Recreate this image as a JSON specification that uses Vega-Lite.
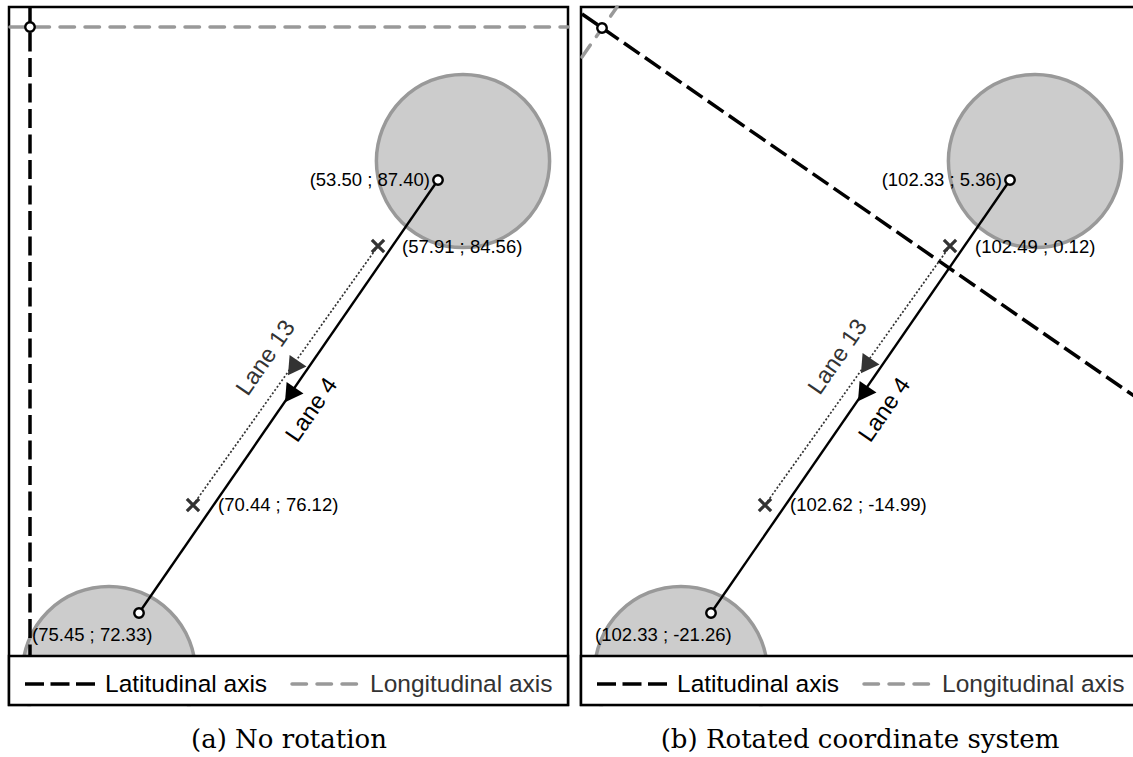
{
  "$schema": "https://vega.github.io/schema/vega-lite/v6.json",
  "width": 1133,
  "height": 757,
  "autosize": {"type": "none"},
  "padding": 0,
  "background": "white",
  "config": {"view": {"stroke": null}},
  "datasets": {
    "panels": [
      {"panel": "a", "x": 9, "x2": 568, "y": 7, "y2": 705},
      {"panel": "b", "x": 581, "x2": 1150, "y": 7, "y2": 705}
    ],
    "legendBoxes": [
      {"panel": "a", "x": 9, "x2": 568, "y": 656, "y2": 705},
      {"panel": "b", "x": 581, "x2": 1150, "y": 656, "y2": 705}
    ],
    "margin": [
      {"x": 0, "x2": 1133, "y": 706.5, "y2": 757}
    ],
    "zones": [
      {"panel": "a", "x": 463, "y": 161},
      {"panel": "a", "x": 109, "y": 673},
      {"panel": "b", "x": 1035, "y": 161},
      {"panel": "b", "x": 681, "y": 673}
    ],
    "axes": [
      {"id": "lat-a", "kind": "lat", "seq": 0, "x": 30, "y": 7},
      {"id": "lat-a", "kind": "lat", "seq": 1, "x": 30, "y": 656},
      {"id": "lon-a", "kind": "lon", "seq": 0, "x": 10, "y": 27},
      {"id": "lon-a", "kind": "lon", "seq": 1, "x": 568, "y": 27},
      {"id": "lat-b", "kind": "lat", "seq": 0, "x": 582, "y": 14},
      {"id": "lat-b", "kind": "lat", "seq": 1, "x": 1150, "y": 407},
      {"id": "lon-b", "kind": "lon", "seq": 0, "x": 582, "y": 57},
      {"id": "lon-b", "kind": "lon", "seq": 1, "x": 617, "y": 7}
    ],
    "legendKeys": [
      {"id": "lat-a", "kind": "lat", "seq": 0, "x": 25, "y": 684},
      {"id": "lat-a", "kind": "lat", "seq": 1, "x": 95, "y": 684},
      {"id": "lon-a", "kind": "lon", "seq": 0, "x": 292, "y": 684},
      {"id": "lon-a", "kind": "lon", "seq": 1, "x": 358, "y": 684},
      {"id": "lat-b", "kind": "lat", "seq": 0, "x": 597, "y": 684},
      {"id": "lat-b", "kind": "lat", "seq": 1, "x": 667, "y": 684},
      {"id": "lon-b", "kind": "lon", "seq": 0, "x": 864, "y": 684},
      {"id": "lon-b", "kind": "lon", "seq": 1, "x": 930, "y": 684}
    ],
    "legendTexts": [
      {"text": "Latitudinal axis", "kind": "lat", "x": 105, "y": 685},
      {"text": "Longitudinal axis", "kind": "lon", "x": 370, "y": 685},
      {"text": "Latitudinal axis", "kind": "lat", "x": 677, "y": 685},
      {"text": "Longitudinal axis", "kind": "lon", "x": 942, "y": 685}
    ],
    "lane4": [
      {"id": "a", "seq": 0, "x": 438, "y": 180},
      {"id": "a", "seq": 1, "x": 139, "y": 613},
      {"id": "b", "seq": 0, "x": 1010, "y": 180},
      {"id": "b", "seq": 1, "x": 711, "y": 613}
    ],
    "lane13": [
      {"id": "a", "seq": 0, "x": 378, "y": 246},
      {"id": "a", "seq": 1, "x": 193, "y": 505},
      {"id": "b", "seq": 0, "x": 950, "y": 246},
      {"id": "b", "seq": 1, "x": 765, "y": 505}
    ],
    "arrows": [
      {"lane": "4", "x": 290, "y": 395},
      {"lane": "13", "x": 293, "y": 368},
      {"lane": "4", "x": 863, "y": 394},
      {"lane": "13", "x": 866, "y": 366}
    ],
    "waypoints": [
      {"x": 438, "y": 180}, {"x": 139, "y": 613},
      {"x": 1010, "y": 180}, {"x": 711, "y": 613},
      {"x": 30, "y": 27}, {"x": 602, "y": 28}
    ],
    "crossings": [
      {"x": 378, "y": 246}, {"x": 193, "y": 505},
      {"x": 950, "y": 246}, {"x": 765, "y": 505}
    ],
    "coordLabels": [
      {"text": "(53.50 ; 87.40)", "side": "right", "x": 430, "y": 180},
      {"text": "(57.91 ; 84.56)", "side": "left", "x": 402, "y": 247},
      {"text": "(70.44 ; 76.12)", "side": "left", "x": 218, "y": 505},
      {"text": "(75.45 ; 72.33)", "side": "left", "x": 32, "y": 635},
      {"text": "(102.33 ; 5.36)", "side": "right", "x": 1002, "y": 180},
      {"text": "(102.49 ; 0.12)", "side": "left", "x": 975, "y": 247},
      {"text": "(102.62 ; -14.99)", "side": "left", "x": 790, "y": 505},
      {"text": "(102.33 ; -21.26)", "side": "left", "x": 595, "y": 635}
    ],
    "laneLabels": [
      {"text": "Lane 13", "lane": "13", "x": 266, "y": 358},
      {"text": "Lane 4", "lane": "4", "x": 312, "y": 410},
      {"text": "Lane 13", "lane": "13", "x": 838, "y": 357},
      {"text": "Lane 4", "lane": "4", "x": 885, "y": 410}
    ],
    "captions": [
      {"text": "(a) No rotation", "x": 289, "y": 748},
      {"text": "(b) Rotated coordinate system", "x": 860, "y": 748}
    ]
  },
  "encoding": {
    "x": {"field": "x", "type": "quantitative", "scale": {"domain": [0, 1133], "nice": false, "zero": false}, "axis": null},
    "y": {"field": "y", "type": "quantitative", "scale": {"domain": [0, 757], "reverse": true, "nice": false, "zero": false}, "axis": null}
  },
  "layer": [
    {
      "data": {"name": "panels"},
      "mark": {"type": "rect", "fill": "white", "stroke": "black", "strokeWidth": 2.5},
      "encoding": {"x2": {"field": "x2"}, "y2": {"field": "y2"}}
    },
    {
      "data": {"name": "zones"},
      "mark": {"type": "point", "shape": "circle", "filled": true, "size": 30000, "fill": "#cccccc", "fillOpacity": 1, "stroke": "#999999", "strokeWidth": 3.5, "opacity": 1}
    },
    {
      "data": {"name": "axes"},
      "transform": [{"filter": "datum.kind == 'lat'"}],
      "mark": {"type": "line", "color": "black", "strokeWidth": 3.5, "strokeDash": [19, 6.5], "strokeCap": "butt"},
      "encoding": {"detail": {"field": "id"}, "order": {"field": "seq"}}
    },
    {
      "data": {"name": "axes"},
      "transform": [{"filter": "datum.kind == 'lon'"}],
      "mark": {"type": "line", "color": "#999999", "strokeWidth": 3.5, "strokeDash": [14.5, 10.5], "strokeCap": "round"},
      "encoding": {"detail": {"field": "id"}, "order": {"field": "seq"}}
    },
    {
      "data": {"name": "lane13"},
      "mark": {"type": "line", "color": "#333333", "strokeWidth": 1.7, "strokeDash": [2, 2]},
      "encoding": {"detail": {"field": "id"}, "order": {"field": "seq"}}
    },
    {
      "data": {"name": "lane4"},
      "mark": {"type": "line", "color": "black", "strokeWidth": 2.4},
      "encoding": {"detail": {"field": "id"}, "order": {"field": "seq"}}
    },
    {
      "data": {"name": "waypoints"},
      "mark": {"type": "point", "shape": "circle", "size": 90, "filled": false, "fill": "white", "fillOpacity": 1, "stroke": "black", "strokeWidth": 2.4, "opacity": 1}
    },
    {
      "data": {"name": "crossings"},
      "mark": {"type": "point", "shape": "M-1,-1L1,1M1,-1L-1,1", "size": 150, "filled": false, "stroke": "#333333", "strokeWidth": 3.2, "strokeCap": "butt", "opacity": 1}
    },
    {
      "data": {"name": "arrows"},
      "mark": {"type": "point", "shape": "triangle-up", "angle": 214.6, "size": 420, "filled": true, "opacity": 1},
      "encoding": {
        "color": {"field": "lane", "type": "nominal", "scale": {"domain": ["4", "13"], "range": ["black", "#333333"]}, "legend": null}
      }
    },
    {
      "data": {"name": "coordLabels"},
      "transform": [{"filter": "datum.side == 'left'"}],
      "mark": {"type": "text", "align": "left", "baseline": "middle", "font": "Liberation Sans", "fontSize": 18.5, "color": "black"},
      "encoding": {"text": {"field": "text"}}
    },
    {
      "data": {"name": "coordLabels"},
      "transform": [{"filter": "datum.side == 'right'"}],
      "mark": {"type": "text", "align": "right", "baseline": "middle", "font": "Liberation Sans", "fontSize": 18.5, "color": "black"},
      "encoding": {"text": {"field": "text"}}
    },
    {
      "data": {"name": "laneLabels"},
      "mark": {"type": "text", "align": "center", "baseline": "middle", "font": "Liberation Sans", "fontSize": 23.5, "angle": 304.6},
      "encoding": {
        "text": {"field": "text"},
        "color": {"field": "lane", "type": "nominal", "scale": {"domain": ["4", "13"], "range": ["black", "#333333"]}, "legend": null}
      }
    },
    {
      "data": {"name": "margin"},
      "mark": {"type": "rect", "fill": "white", "strokeWidth": 0},
      "encoding": {"x2": {"field": "x2"}, "y2": {"field": "y2"}}
    },
    {
      "data": {"name": "legendBoxes"},
      "mark": {"type": "rect", "fill": "white", "stroke": "black", "strokeWidth": 2.5},
      "encoding": {"x2": {"field": "x2"}, "y2": {"field": "y2"}}
    },
    {
      "data": {"name": "legendKeys"},
      "transform": [{"filter": "datum.kind == 'lat'"}],
      "mark": {"type": "line", "color": "black", "strokeWidth": 3.5, "strokeDash": [19, 6.5], "strokeCap": "butt"},
      "encoding": {"detail": {"field": "id"}, "order": {"field": "seq"}}
    },
    {
      "data": {"name": "legendKeys"},
      "transform": [{"filter": "datum.kind == 'lon'"}],
      "mark": {"type": "line", "color": "#999999", "strokeWidth": 3.5, "strokeDash": [14.5, 10.5], "strokeCap": "round"},
      "encoding": {"detail": {"field": "id"}, "order": {"field": "seq"}}
    },
    {
      "data": {"name": "legendTexts"},
      "mark": {"type": "text", "align": "left", "baseline": "middle", "font": "Liberation Sans", "fontSize": 24.5},
      "encoding": {
        "text": {"field": "text"},
        "color": {"field": "kind", "type": "nominal", "scale": {"domain": ["lat", "lon"], "range": ["black", "#999999"]}, "legend": null}
      }
    },
    {
      "data": {"name": "captions"},
      "mark": {"type": "text", "align": "center", "baseline": "alphabetic", "font": "DejaVu Serif", "fontSize": 26, "color": "black"},
      "encoding": {"text": {"field": "text"}}
    }
  ]
}
